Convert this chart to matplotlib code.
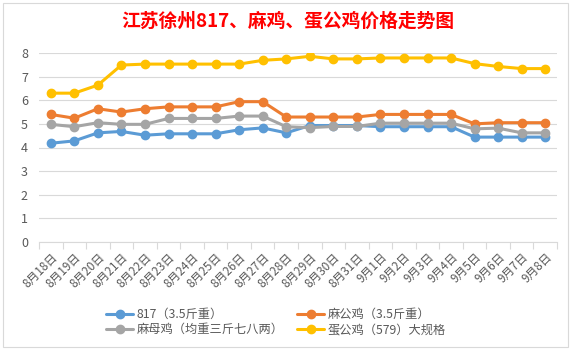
import matplotlib
matplotlib.use("Agg")
import matplotlib.pyplot as plt
from matplotlib.patches import Rectangle
from matplotlib.ticker import FixedLocator

plt.rcParams['font.family'] = ['Noto Sans CJK SC', 'DejaVu Sans']

dates = [f"8月{d}日" for d in range(18, 32)] + [f"9月{d}日" for d in range(1, 9)]

price_817 = [4.18, 4.28, 4.62, 4.68, 4.52, 4.58, 4.58, 4.58, 4.75, 4.83, 4.62,
             4.93, 4.93, 4.93, 4.88, 4.88, 4.88, 4.88, 4.44, 4.44, 4.44, 4.44]
price_ma_gong = [5.4, 5.24, 5.64, 5.5, 5.64, 5.72, 5.72, 5.72, 5.94, 5.94, 5.29,
                 5.29, 5.29, 5.29, 5.4, 5.4, 5.4, 5.4, 5.0, 5.05, 5.05, 5.05]
price_ma_mu = [4.98, 4.88, 5.05, 4.98, 4.98, 5.23, 5.23, 5.23, 5.33, 5.33, 4.88,
               4.84, 4.89, 4.89, 5.03, 5.03, 5.03, 5.03, 4.79, 4.82, 4.62, 4.62]
price_dan_gong = [6.3, 6.3, 6.64, 7.49, 7.53, 7.53, 7.53, 7.53, 7.53, 7.69, 7.75,
                  7.86, 7.75, 7.75, 7.79, 7.79, 7.79, 7.79, 7.55, 7.43, 7.34, 7.34]

series = [
    ("817（3.5斤重）", price_817, "#5B9BD5"),
    ("麻公鸡（3.5斤重）", price_ma_gong, "#ED7D31"),
    ("麻母鸡（均重三斤七八两）", price_ma_mu, "#A5A5A5"),
    ("蛋公鸡（579）大规格", price_dan_gong, "#FFC000"),
]

fig = plt.figure(figsize=(5.75, 3.53), dpi=100)
fig.patches.append(Rectangle((3 / 575, 6 / 353), 565 / 575, 344 / 353, transform=fig.transFigure,
                             fill=False, edgecolor="#D9D9D9", linewidth=0.8))

ax = fig.add_axes([39 / 575, 1 - 242 / 353, 518 / 575, 189 / 353])
x = list(range(len(dates)))
lines = {}
for name, vals, color in series:
    ln, = ax.plot(x, vals, color=color, linewidth=2.2, marker="o", markersize=6,
                  label=name, solid_capstyle="round")
    lines[name] = ln

ax.set_xlim(-0.5, len(dates) - 0.5)
ax.set_ylim(0, 8)
ax.set_yticks(range(0, 9))
ax.grid(axis="y", color="#D9D9D9", linewidth=0.8)
ax.set_axisbelow(True)
for s in ["top", "right", "left"]:
    ax.spines[s].set_visible(False)
ax.spines["bottom"].set_color("#D9D9D9")
ax.spines["bottom"].set_linewidth(0.8)

ax.set_xticks(x)
ax.set_xticklabels(dates, rotation=45, ha="right", rotation_mode="anchor")
ax.xaxis.set_minor_locator(FixedLocator([i - 0.5 for i in range(len(dates) + 1)]))
ax.tick_params(axis="x", which="major", length=0, pad=6, labelsize=8.5, labelcolor="#595959")
ax.tick_params(axis="x", which="minor", length=5, color="#D9D9D9", width=0.8)
ax.tick_params(axis="y", length=0, pad=8, labelsize=9, labelcolor="#595959")

fig.text(0.5, 1 - 21 / 353, "江苏徐州817、麻鸡、蛋公鸡价格走势图", color="red",
         fontsize=13.5, fontweight="bold", ha="center", va="center")

order = ["817（3.5斤重）", "麻母鸡（均重三斤七八两）", "麻公鸡（3.5斤重）", "蛋公鸡（579）大规格"]
fig.legend([lines[n] for n in order], order, ncol=2, loc="center",
           bbox_to_anchor=(276 / 575, 1 - 322 / 353), frameon=False, fontsize=8.8,
           labelcolor="#595959", handlelength=2.2, columnspacing=1.1,
           handletextpad=0.3, labelspacing=0.2, borderpad=0.2)

fig.savefig("out.png", dpi=100)
